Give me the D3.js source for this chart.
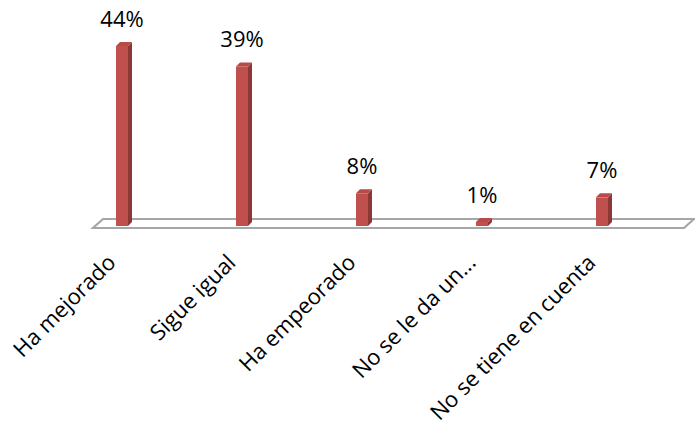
<!DOCTYPE html>
<html>
<head>
<meta charset="utf-8">
<script src="https://cdn.jsdelivr.net/npm/d3@7"></script>
<style>
  html, body { margin: 0; padding: 0; background: #fff; }
  svg { display: block; }
  text { font-family: "Open Sans", "Liberation Sans", sans-serif; fill: #000; }
</style>
</head>
<body>
<svg id="chart" width="695" height="437"></svg>
<script>
const categories = ["Ha mejorado", "Sigue igual", "Ha empeorado", "No se le da un...", "No se tiene en cuenta"];
const values = [44, 39, 8, 1, 7];
const valueLabels = ["44%", "39%", "8%", "1%", "7%"];

const W = 695, H = 437;
const svg = d3.select("#chart");

const x = d3.scaleBand().domain(categories).range([62, 662]).paddingInner(0.9).paddingOuter(0.45);
const y = d3.scaleLinear().domain([0, 44]).range([226, 46]);

const depthX = 4, depthY = 4;      // bar 3D depth
const floorDX = 10, floorDY = 9;   // floor depth

// Floor
const fl = 93, fr = 684, fb = 228;
svg.append("path")
  .attr("d", `M${fl},${fb} L${fr},${fb} L${fr + floorDX},${fb - floorDY} L${fl + floorDX},${fb - floorDY} Z`)
  .attr("fill", "#fff")
  .attr("stroke", "#a6a6a6")
  .attr("stroke-width", 2.2);

const bars = svg.append("g").selectAll("g").data(categories).join("g");

// side face
bars.append("path")
  .attr("d", (d, i) => {
    const x1 = x(d) + x.bandwidth(), y0 = y(0), y1 = y(values[i]);
    return `M${x1},${y1} L${x1 + depthX},${y1 - depthY} L${x1 + depthX},${y0 - depthY} L${x1},${y0} Z`;
  })
  .attr("fill", "#8c3836");

// top face
bars.append("path")
  .attr("d", (d, i) => {
    const x0 = x(d), x1 = x(d) + x.bandwidth(), y1 = y(values[i]);
    return `M${x0},${y1} L${x0 + depthX},${y1 - depthY} L${x1 + depthX},${y1 - depthY} L${x1},${y1} Z`;
  })
  .attr("fill", "#b94a47");

// front face
bars.append("rect")
  .attr("x", d => x(d))
  .attr("y", (d, i) => y(values[i]))
  .attr("width", x.bandwidth())
  .attr("height", (d, i) => y(0) - y(values[i]))
  .attr("fill", "#c0504d");

// value labels
svg.append("g").selectAll("text").data(categories).join("text")
  .attr("x", d => x(d) + x.bandwidth() / 2)
  .attr("y", (d, i) => y(values[i]) - 19)
  .attr("text-anchor", "middle")
  .attr("font-size", 22)
  .text((d, i) => valueLabels[i]);

// category labels
svg.append("g").selectAll("text").data(categories).join("text")
  .attr("transform", d => `translate(${x(d) + x.bandwidth() / 2 - 5},${264}) rotate(-45)`)
  .attr("text-anchor", "end")
  .attr("font-size", 22)
  .text(d => d);
</script>
</body>
</html>
